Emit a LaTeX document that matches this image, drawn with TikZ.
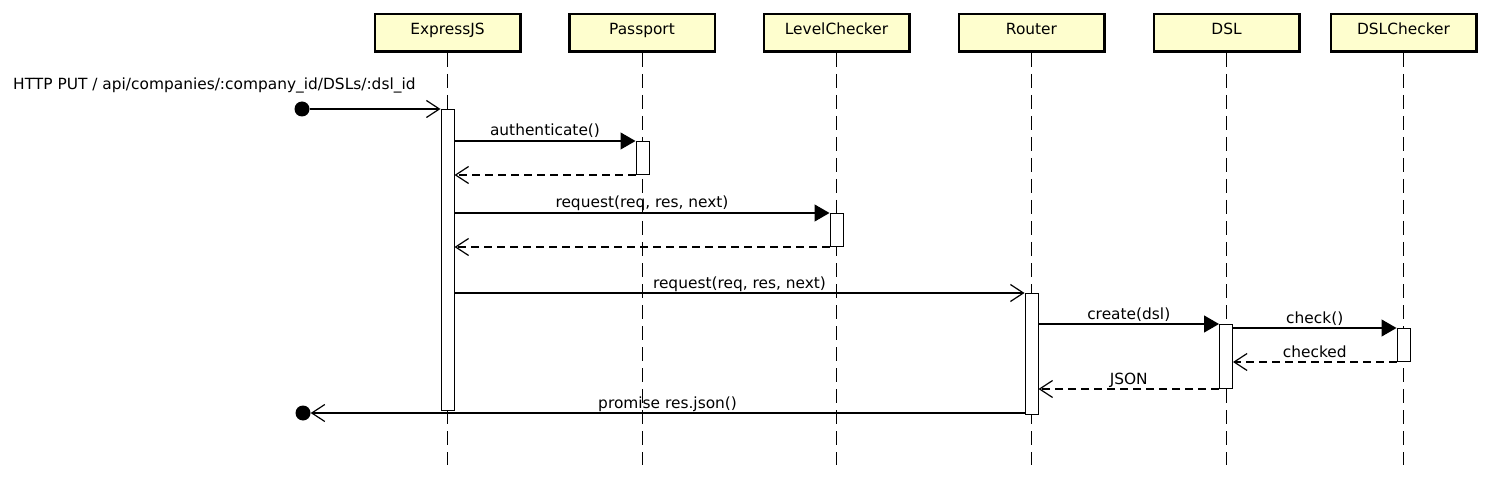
\documentclass[tikz,border=0pt]{standalone}
\usepackage{fontspec}
\setmainfont{DejaVu Sans}
\usetikzlibrary{arrows.meta}
\definecolor{partfill}{HTML}{FEFECE}
\begin{document}
\begin{tikzpicture}[x=1pt,y=-1pt,
  every node/.style={font=\fontsize{15.4}{18}\selectfont},
  part/.style={draw, line width=2.5pt, fill=partfill, minimum width=145.5pt, minimum height=37.5pt, inner sep=0pt, text height=11pt, text depth=8pt},
  life/.style={line width=1pt, dash pattern=on 14pt off 7pt},
  bar/.style={draw, line width=1pt, fill=white, minimum width=13pt, inner sep=0pt, anchor=north},
  dot/.style={circle, fill=black, minimum size=15pt, inner sep=0pt},
  sync/.style={line width=1.2pt, -{Triangle[length=15pt,width=17pt]}},
  async/.style={line width=1.2pt, -{Straight Barb[length=13pt,width=17pt,line width=1.2pt]}},
  ret/.style={async, dash pattern=on 8pt off 5pt},
  lbl/.style={anchor=base, yshift=5pt, inner sep=0pt}]
\useasboundingbox (0,0) rectangle (1490,478);
% participants
\node[part] (hE) at (447.5,33) {ExpressJS};
\node[part] (hP) at (642,33) {Passport};
\node[part] (hL) at (836.5,33) {LevelChecker};
\node[part] (hR) at (1031.5,33) {Router};
\node[part] (hD) at (1226.5,33) {DSL};
\node[part] (hC) at (1403.5,33) {DSLChecker};
% lifeline ends
\coordinate (eE) at (447.5,465);
\coordinate (eP) at (642,465);
\coordinate (eL) at (836.5,465);
\coordinate (eR) at (1031.5,465);
\coordinate (eD) at (1226.5,465);
\coordinate (eC) at (1403.5,465);
\draw[life] (hE.south) -- (eE);
\draw[life] (hP.south) -- (eP);
\draw[life] (hL.south) -- (eL);
\draw[life] (hR.south) -- (eR);
\draw[life] (hD.south) -- (eD);
\draw[life] (hC.south) -- (eC);
% activation bars
\node[bar, minimum height=301pt] (aE) at (447.5,109) {};
\node[bar, minimum height=33pt] (aP) at (642.5,141) {};
\node[bar, minimum height=33pt] (aL) at (836.5,213) {};
\node[bar, minimum height=121pt] (aR) at (1031.5,293) {};
\node[bar, minimum height=64pt] (aD) at (1226,324) {};
\node[bar, minimum height=33pt] (aC) at (1403.5,328) {};
% end points
\node[dot] (start) at (302,109) {};
\node[dot] (stop) at (303,413) {};
\node[anchor=base west, inner sep=0pt] (httplbl) at (13,90) {HTTP PUT / api/companies/:company\_id/DSLs/:dsl\_id};
% messages
\draw[async] (start) -- (aE.north west);
\draw[sync] (aE.east |- aP.north) -- (aP.north west) node[lbl, midway] {authenticate()};
\draw[ret] (aP.south west) -- (aE.east |- aP.south);
\draw[sync] (aE.east |- aL.north) -- (aL.north west) node[lbl, midway] {request(req, res, next)};
\draw[ret] (aL.south west) -- (aE.east |- aL.south);
\draw[async] (aE.east |- aR.north) -- (aR.north west) node[lbl, midway] {request(req, res, next)};
\draw[sync] (aR.east |- aD.north) -- (aD.north west) node[lbl, midway] {create(dsl)};
\draw[sync] (aD.east |- aC.north) -- (aC.north west) node[lbl, midway] {check()};
\draw[ret] (aC.south west) -- (aD.east |- aC.south) node[lbl, midway] {checked};
\draw[ret] (aD.south west) -- (aR.east |- aD.south) node[lbl, midway] {JSON};
\draw[async] (aR.west |- stop) -- (stop) node[lbl, midway] {promise res.json()};
\end{tikzpicture}
\end{document}
